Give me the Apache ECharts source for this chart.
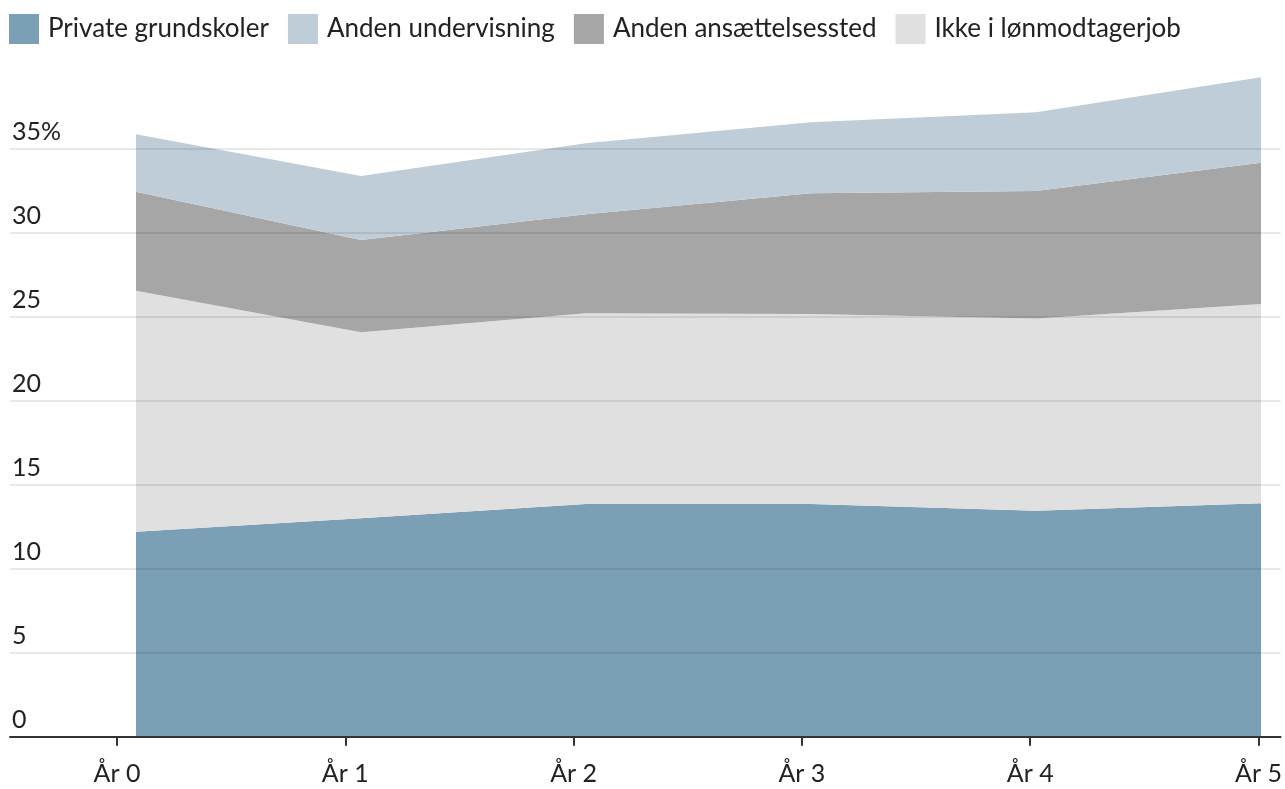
<!DOCTYPE html>
<html>
<head>
<meta charset="utf-8">
<script src="https://cdn.jsdelivr.net/npm/echarts@6/dist/echarts.min.js"></script>
<style>
html,body{margin:0;padding:0;background:#fff;}
#chart{width:1285px;height:789px;}
</style>
</head>
<body>
<div id="chart"></div>
<script>
// Data (percent)
var categories = ['År 0', 'År 1', 'År 2', 'År 3', 'År 4', 'År 5'];
var privateGrundskoler = [12.2, 13.0, 13.85, 13.85, 13.45, 13.9];
var ikkeILonmodtagerjob = [14.35, 11.08, 11.35, 11.31, 11.45, 11.85];
var andenAnsaettelsessted = [5.89, 5.48, 5.9, 7.19, 7.58, 8.42];
var andenUndervisning = [3.42, 3.81, 4.22, 4.22, 4.69, 5.08];
var yTicks = [0, 5, 10, 15, 20, 25, 30, 35];
var legendOrder = ['Private grundskoler', 'Anden undervisning', 'Anden ansættelsessted', 'Ikke i lønmodtagerjob'];

var FONT = 'Lato';
var TXT = '#222';
var tickPositions = categories.map(function (c, i) { return i; });

var chart = echarts.init(document.getElementById('chart'), null, {renderer: 'canvas'});

var gridTop = 64.7, gridBottom = 52.3;

function areaSeries(name, data, color) {
  return {
    name: name,
    type: 'line',
    stack: 'total',
    xAxisIndex: 1,
    yAxisIndex: 1,
    data: data,
    symbol: 'none',
    showSymbol: false,
    lineStyle: {width: 0},
    areaStyle: {color: color, opacity: 1},
    itemStyle: {color: color},
    emphasis: {disabled: true},
    animation: false,
    z: 2
  };
}

var splitColors = [];
var yMax = 40;
for (var v = 0; v <= yMax; v += 5) {
  splitColors.push(v === 0 || v === yMax ? 'rgba(0,0,0,0)' : 'rgba(0,0,0,0.085)');
}

var option = {
  backgroundColor: '#fff',
  animation: false,
  legend: {
    data: legendOrder,
    left: 9,
    top: 14,
    itemWidth: 30,
    itemHeight: 30,
    itemGap: 19,
    icon: 'rect',
    padding: 0,
    textStyle: {fontFamily: FONT, fontSize: 26, color: TXT, padding: [0, 0, 0, 4]},
    selectedMode: false
  },
  grid: [
    {left: 10, right: 4, top: gridTop, bottom: gridBottom, containLabel: false},
    {left: 136, right: 24, top: gridTop, bottom: gridBottom, containLabel: false}
  ],
  xAxis: [
    {
      type: 'value',
      gridIndex: 0,
      min: -0.4685,
      max: 5.0963,
      axisLine: {show: true, lineStyle: {color: '#333', width: 2}},
      axisTick: {show: true, customValues: tickPositions, length: 9, lineStyle: {color: '#333', width: 2}},
      axisLabel: {
        show: true,
        customValues: tickPositions,
        margin: 25,
        fontFamily: FONT,
        fontSize: 25,
        color: TXT,
        formatter: function (val) { return categories[Math.round(val)]; }
      },
      splitLine: {show: false},
      z: 6
    },
    {
      type: 'category',
      gridIndex: 1,
      data: categories,
      boundaryGap: false,
      show: false
    }
  ],
  yAxis: [
    {
      type: 'value',
      gridIndex: 0,
      min: 0,
      max: yMax,
      interval: 5,
      axisLine: {show: false},
      axisTick: {show: false},
      axisLabel: {
        show: true,
        inside: true,
        margin: 2,
        align: 'left',
        verticalAlign: 'bottom',
        padding: [0, 0, 4, 0],
        fontFamily: FONT,
        fontSize: 25,
        color: TXT,
        showMaxLabel: false,
        formatter: function (val) {
          if (yTicks.indexOf(val) < 0) return '';
          return val === 35 ? val + '%' : String(val);
        }
      },
      splitLine: {show: true, lineStyle: {color: splitColors, width: 2}},
      z: 5
    },
    {
      type: 'value',
      gridIndex: 1,
      min: 0,
      max: yMax,
      show: false,
      splitLine: {show: false}
    }
  ],
  series: [
    areaSeries('Private grundskoler', privateGrundskoler, '#7b9fb4'),
    areaSeries('Ikke i lønmodtagerjob', ikkeILonmodtagerjob, '#e0e0e0'),
    areaSeries('Anden ansættelsessted', andenAnsaettelsessted, '#a6a6a6'),
    areaSeries('Anden undervisning', andenUndervisning, '#bfcdd8')
  ]
};

chart.setOption(option);
</script>
</body>
</html>
